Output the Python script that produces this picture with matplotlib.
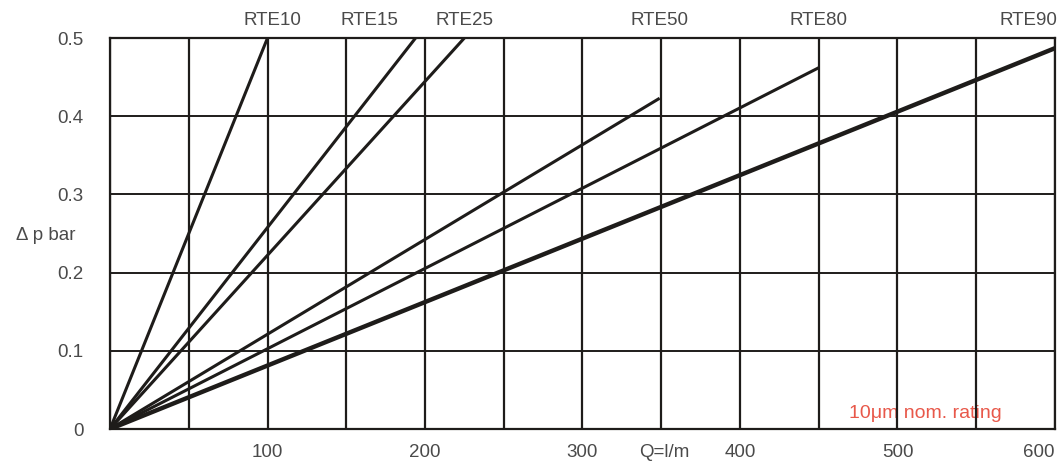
import matplotlib.pyplot as plt
import numpy as np

plt.rcParams['font.family'] = ['Liberation Sans', 'DejaVu Sans']

# filter curves: flow (l/min) and pressure drop (bar) at end points, all from origin
names = ["RTE10", "RTE15", "RTE25", "RTE50", "RTE80", "RTE90"]
q_end = [100, 194, 225, 349, 450, 600]
dp_end = [0.5, 0.5, 0.5, 0.423, 0.462, 0.487]

x_ticks = [100, 200, 300, 400, 500, 600]
y_ticks = [0, 0.1, 0.2, 0.3, 0.4, 0.5]
y_labels = ["0", "0.1", "0.2", "0.3", "0.4", "0.5"]

grid_x = np.arange(0, 601, 50)
grid_y = np.arange(0, 0.51, 0.1)

# label placement tweaks (styling only)
label_shift = {"RTE10": 3, "RTE15": -29, "RTE90": -17}
line_w = {"RTE90": 3.2}

txt = "#4a4a4a"
ink = "#1e1c1a"
fs = 13.5

fig = plt.figure(figsize=(10.61, 4.62), dpi=100)
ax = fig.add_axes([0.1037, 0.0714, 0.8906, 0.8463])
ax.set_xlim(0, 600)
ax.set_ylim(0, 0.5)

for gx in grid_x:
    ax.axvline(gx, color=ink, lw=1.6, zorder=1)
for gy in grid_y:
    ax.axhline(gy, color=ink, lw=1.4, zorder=1)

for name, q, dp in zip(names, q_end, dp_end):
    ax.plot([0, q], [0, dp], color=ink, lw=line_w.get(name, 2.2),
            solid_capstyle='butt', zorder=3)
    ax.text(q + label_shift.get(name, 0), 0.522, name, ha='center', va='center',
            fontsize=fs, color=txt)

for s in ax.spines.values():
    s.set_color(ink)
    s.set_linewidth(1.6)

ax.set_xticks(x_ticks)
ax.set_xticklabels([str(v) for v in x_ticks])
ax.set_yticks(y_ticks)
ax.set_yticklabels(y_labels)
ax.tick_params(length=0, labelsize=fs, labelcolor=txt)
ax.tick_params(axis='x', pad=11)
ax.tick_params(axis='y', pad=19)
ax.get_xticklabels()[-1].set_horizontalalignment('right')
ax.get_xticklabels()[-1].set_x(614)

ax.text(352, -0.03, "Q=l/m", ha='center', va='center', fontsize=fs, color=txt)
ax.text(-0.037, 0.247 / 0.5, "Δ p bar", transform=ax.transAxes, ha='right',
        va='center', fontsize=fs, color=txt)
# grid runs over the red note in the original
ax.text(0.863, 0.04, "10μm nom. rating", transform=ax.transAxes, ha='center',
        va='center', fontsize=14, color="#e8584a", zorder=0.5)

fig.savefig("out.png", dpi=100)
